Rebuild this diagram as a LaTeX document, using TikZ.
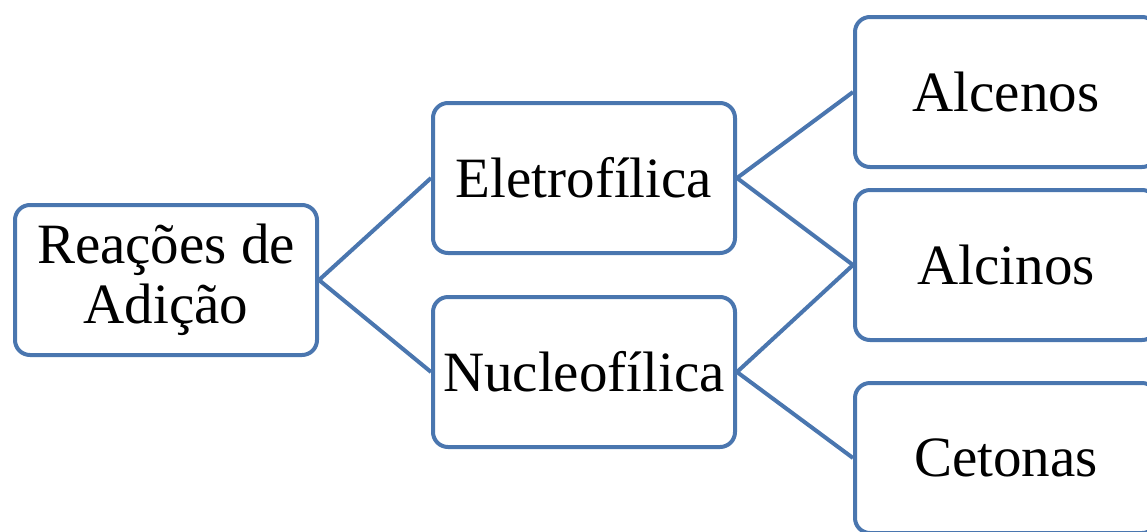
\documentclass[tikz,border=0pt]{standalone}
\usepackage{fontspec}
\setmainfont{Liberation Serif}
\usepackage{xcolor}
\usepackage{tikz}
\usetikzlibrary{positioning}

\definecolor{boxblue}{RGB}{74,118,175}

\begin{document}
\begin{tikzpicture}[
    x=1pt, y=-1pt,
    every node/.style={draw=boxblue, line width=4pt, rectangle, rounded corners=15pt,
        minimum width=302pt, minimum height=150pt, align=center,
        font=\fontsize{57}{60}\selectfont},
    link/.style={draw=boxblue, line width=4pt}
]
\useasboundingbox (0,0) rectangle (1147,531);
\node (reac)   at (166,280)  {Reações de\\Adição};
\node (eletro) at (584,178)  {Eletrofílica};
\node (nucleo) at (584,372)  {Nucleofílica};
\node (alcen)  at (1006,92)  {Alcenos};
\node (alcin)  at (1006,265) {Alcinos};
\node (ceton)  at (1006,458) {Cetonas};

\draw[link] (reac.east) -- (eletro.west);
\draw[link] (reac.east) -- (nucleo.west);
\draw[link] (eletro.east) -- (alcen.west);
\draw[link] (eletro.east) -- (alcin.west);
\draw[link] (nucleo.east) -- (alcin.west);
\draw[link] (nucleo.east) -- (ceton.west);
\end{tikzpicture}
\end{document}
